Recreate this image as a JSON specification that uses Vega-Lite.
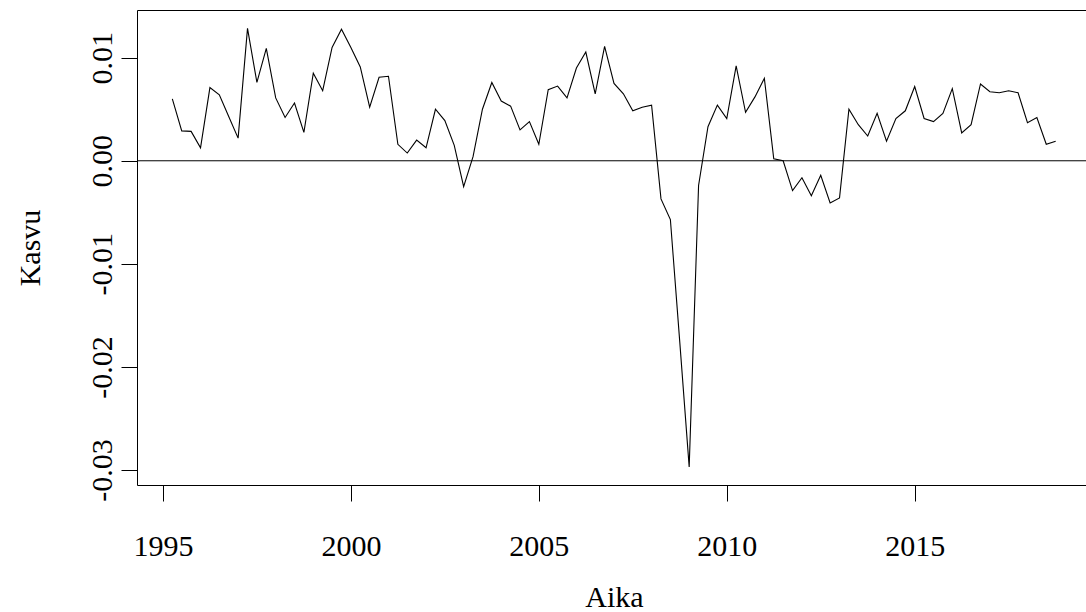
{
  "$schema": "https://vega.github.io/schema/vega-lite/v6.json",
  "autosize": {"type": "none"},
  "padding": {"left": 137, "top": 10, "right": 0, "bottom": 127},
  "width": 954,
  "height": 475,
  "background": "white",
  "config": {
    "view": {"stroke": "black", "strokeWidth": 1},
    "font": "Liberation Serif",
    "axis": {
      "labelFont": "Liberation Serif",
      "titleFont": "Liberation Serif",
      "labelFontSize": 30,
      "titleFontSize": 30,
      "titleFontWeight": "normal",
      "labelColor": "black",
      "titleColor": "black",
      "tickColor": "black",
      "tickSize": 16,
      "domain": false,
      "grid": false
    }
  },
  "layer": [
    {
      "data": {"values": [
        {"t": 1995.25, "v": 0.0060}, {"t": 1995.5, "v": 0.0029}, {"t": 1995.75, "v": 0.00285}, {"t": 1996.0, "v": 0.00126},
        {"t": 1996.25, "v": 0.0071}, {"t": 1996.5, "v": 0.0064}, {"t": 1996.75, "v": 0.0043}, {"t": 1997.0, "v": 0.0022},
        {"t": 1997.25, "v": 0.01285}, {"t": 1997.5, "v": 0.0076}, {"t": 1997.75, "v": 0.0109}, {"t": 1998.0, "v": 0.0061},
        {"t": 1998.25, "v": 0.0042}, {"t": 1998.5, "v": 0.0056}, {"t": 1998.75, "v": 0.00276}, {"t": 1999.0, "v": 0.0085},
        {"t": 1999.25, "v": 0.0068}, {"t": 1999.5, "v": 0.0110}, {"t": 1999.75, "v": 0.01276}, {"t": 2000.0, "v": 0.0110},
        {"t": 2000.25, "v": 0.0091}, {"t": 2000.5, "v": 0.0052}, {"t": 2000.75, "v": 0.0081}, {"t": 2001.0, "v": 0.0082},
        {"t": 2001.25, "v": 0.0016}, {"t": 2001.5, "v": 0.00075}, {"t": 2001.75, "v": 0.0020}, {"t": 2002.0, "v": 0.00126},
        {"t": 2002.25, "v": 0.0050}, {"t": 2002.5, "v": 0.0039}, {"t": 2002.75, "v": 0.0015}, {"t": 2003.0, "v": -0.0025},
        {"t": 2003.25, "v": 0.0004}, {"t": 2003.5, "v": 0.0050}, {"t": 2003.75, "v": 0.0076}, {"t": 2004.0, "v": 0.0058},
        {"t": 2004.25, "v": 0.0053}, {"t": 2004.5, "v": 0.0030}, {"t": 2004.75, "v": 0.0038}, {"t": 2005.0, "v": 0.0016},
        {"t": 2005.25, "v": 0.0069}, {"t": 2005.5, "v": 0.00725}, {"t": 2005.75, "v": 0.0061}, {"t": 2006.0, "v": 0.0090},
        {"t": 2006.25, "v": 0.01055}, {"t": 2006.5, "v": 0.0065}, {"t": 2006.75, "v": 0.0111}, {"t": 2007.0, "v": 0.0075},
        {"t": 2007.25, "v": 0.0065}, {"t": 2007.5, "v": 0.00485}, {"t": 2007.75, "v": 0.0052}, {"t": 2008.0, "v": 0.0054},
        {"t": 2008.25, "v": -0.0037}, {"t": 2008.5, "v": -0.0057}, {"t": 2008.75, "v": -0.0176}, {"t": 2009.0, "v": -0.0297},
        {"t": 2009.25, "v": -0.0024}, {"t": 2009.5, "v": 0.0033}, {"t": 2009.75, "v": 0.0054}, {"t": 2010.0, "v": 0.0041},
        {"t": 2010.25, "v": 0.0092}, {"t": 2010.5, "v": 0.0047}, {"t": 2010.75, "v": 0.0062}, {"t": 2011.0, "v": 0.0080},
        {"t": 2011.25, "v": 0.0002}, {"t": 2011.5, "v": 0.0000}, {"t": 2011.75, "v": -0.0029}, {"t": 2012.0, "v": -0.00165},
        {"t": 2012.25, "v": -0.0034}, {"t": 2012.5, "v": -0.0014}, {"t": 2012.75, "v": -0.0041}, {"t": 2013.0, "v": -0.0036},
        {"t": 2013.25, "v": 0.0050}, {"t": 2013.5, "v": 0.0035}, {"t": 2013.75, "v": 0.0024}, {"t": 2014.0, "v": 0.0046},
        {"t": 2014.25, "v": 0.0019}, {"t": 2014.5, "v": 0.0041}, {"t": 2014.75, "v": 0.00485}, {"t": 2015.0, "v": 0.0072},
        {"t": 2015.25, "v": 0.0041}, {"t": 2015.5, "v": 0.0038}, {"t": 2015.75, "v": 0.0046}, {"t": 2016.0, "v": 0.0070},
        {"t": 2016.25, "v": 0.0027}, {"t": 2016.5, "v": 0.0035}, {"t": 2016.75, "v": 0.00745}, {"t": 2017.0, "v": 0.0067},
        {"t": 2017.25, "v": 0.0066}, {"t": 2017.5, "v": 0.0068}, {"t": 2017.75, "v": 0.0066}, {"t": 2018.0, "v": 0.0037},
        {"t": 2018.25, "v": 0.0042}, {"t": 2018.5, "v": 0.0016}, {"t": 2018.75, "v": 0.0019}
      ]},
      "mark": {"type": "line", "color": "black", "strokeWidth": 1.1},
      "encoding": {
        "x": {
          "field": "t", "type": "quantitative",
          "scale": {"domain": [1994.31, 2019.69], "nice": false, "zero": false},
          "axis": {"values": [1995, 2000, 2005, 2010, 2015], "format": "d", "title": "Aika", "labelPadding": 30, "titlePadding": 21, "labelFlush": false}
        },
        "y": {
          "field": "v", "type": "quantitative",
          "scale": {"domain": [-0.03146, 0.01463], "nice": false, "zero": false},
          "axis": {
            "values": [-0.03, -0.02, -0.01, 0, 0.01],
            "labelExpr": "datum.value < 0 ? '-' + format(-datum.value, '.2f') : format(datum.value, '.2f')",
            "labelAngle": -90,
            "labelAlign": "center",
            "labelBaseline": "bottom",
            "labelPadding": 4,
            "title": "Kasvu",
            "titlePadding": 42,
            "labelFlush": false
          }
        }
      }
    },
    {
      "data": {"values": [{"y": 0}]},
      "mark": {"type": "rule", "color": "black", "strokeWidth": 1},
      "encoding": {"y": {"field": "y", "type": "quantitative"}}
    }
  ]
}
